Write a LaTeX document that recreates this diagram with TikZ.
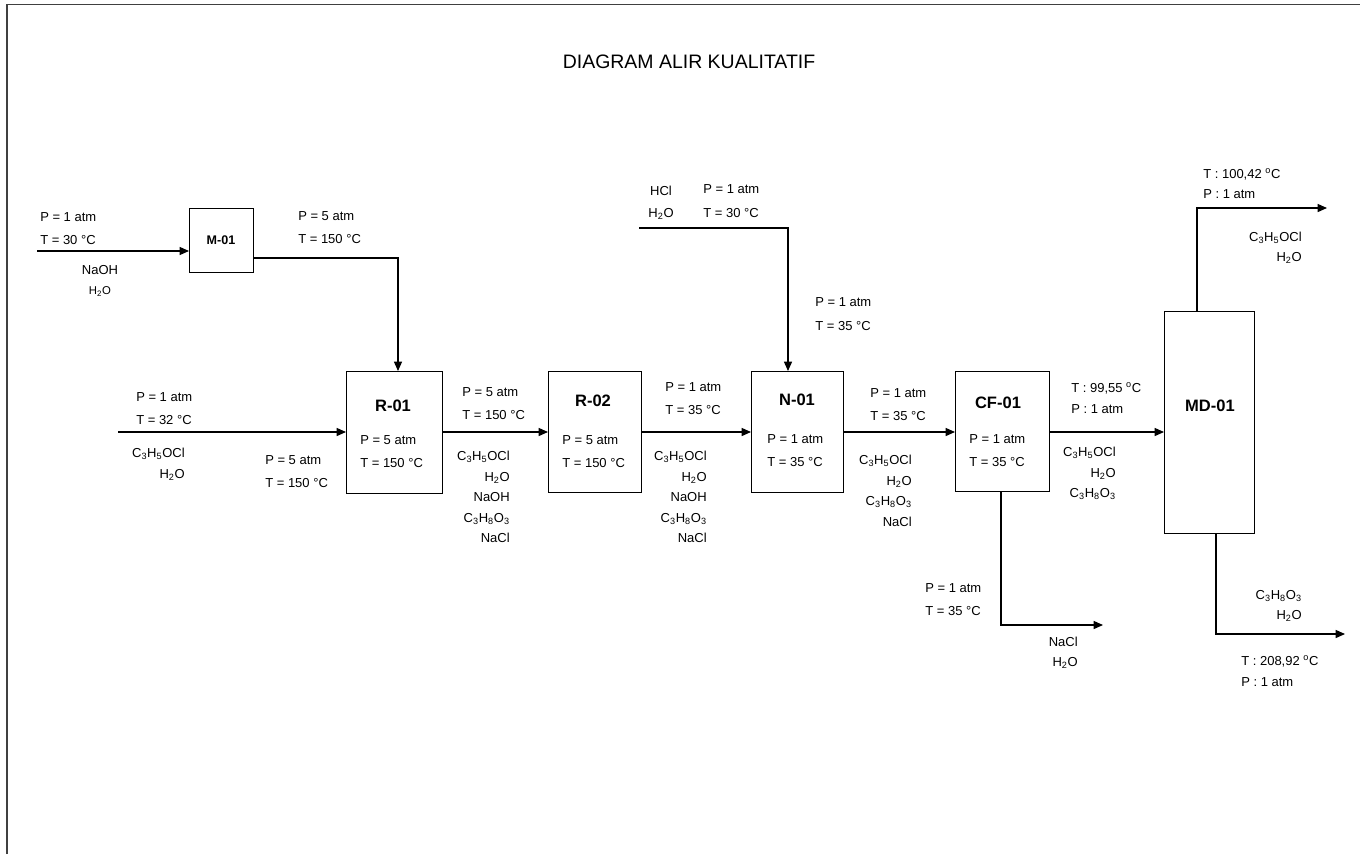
\documentclass[tikz,border=0pt]{standalone}
\usepackage{fontspec}
\setmainfont{Liberation Sans}
\usetikzlibrary{positioning,arrows.meta}

\begin{document}
\begin{tikzpicture}[
  x=0.75pt, y=-0.75pt,
  font=\fontsize{9.75}{11.5}\selectfont,
  unit/.style={draw, line width=0.8pt, anchor=north west, inner sep=0pt},
  unitname/.style={font=\fontsize{12.4}{14}\selectfont\bfseries},
  cond/.style={anchor=north west, align=left, inner sep=0pt,
    font=\fontsize{9.75}{17.25}\selectfont},
  comp/.style={anchor=north east, align=right, inner sep=0pt,
    font=\fontsize{9.75}{15.4}\selectfont},
  pipe/.style={line width=0.95pt},
  stream/.style={pipe, -{Triangle[length=7pt, width=6pt]}},
  frame/.style={line width=1.1pt, black!75}
]
\useasboundingbox (0,0) rectangle (1360,854);
\draw[frame] (7,854) -- (7,4.5) -- (1360,4.5);
\node[font=\fontsize{14.6}{16}\selectfont] (title) at (689,62) {DIAGRAM ALIR KUALITATIF};

% process units
\node[unit, minimum width=48pt, minimum height=48pt] (m01) at (189,208) {};
\node[unit, minimum width=72pt, minimum height=91.5pt] (r01) at (346,371) {};
\node[unit, minimum width=69.75pt, minimum height=90.75pt] (r02) at (548,371) {};
\node[unit, minimum width=69pt, minimum height=90.75pt] (n01) at (751,371) {};
\node[unit, minimum width=70.5pt, minimum height=90pt] (cf01) at (955,371) {};
\node[unit, minimum width=67.5pt, minimum height=166.5pt] (md01) at (1164,311) {};

\node[unitname, font=\fontsize{9.4}{11}\selectfont\bfseries] (m01name) at (221,240) {M-01};
\node[unitname] (r01name) at (393,406) {R-01};
\node[unitname] (r02name) at (593,401) {R-02};
\node[unitname] (n01name) at (797,400) {N-01};
\node[unitname] (cf01name) at (998,403) {CF-01};
\node[unitname] (md01name) at (1210,406) {MD-01};

\node[cond] (r01cond) at (360,435) {P = 5 atm\\T = 150 °C};
\node[cond] (r02cond) at (562,435) {P = 5 atm\\T = 150 °C};
\node[cond] (n01cond) at (767,434) {P = 1 atm\\T = 35 °C};
\node[cond] (cf01cond) at (969,434) {P = 1 atm\\T = 35 °C};

% free ends of the streams
\coordinate (naoh) at (37,251);
\coordinate (m01out) at (398,258);
\coordinate (epi) at (118,432);
\coordinate (row) at (0,432);
\coordinate (hcl) at (639,228);
\coordinate (hclbend) at (788,228);
\coordinate (cakebend) at (1001,625);
\coordinate (cake) at (1103,625);
\coordinate (topbend) at (1197,208);
\coordinate (top) at (1327,208);
\coordinate (botbend) at (1216,634);
\coordinate (bot) at (1345,634);

% streams
\draw[stream] (naoh) -- (naoh -| m01.west);
\draw[stream] (m01.east |- m01out) -- (m01out) -- (m01out |- r01.north);
\draw[stream] (epi) -- (epi -| r01.west);
\draw[stream] (r01.east |- row) -- (r02.west |- row);
\draw[stream] (r02.east |- row) -- (n01.west |- row);
\draw[stream] (hcl) -- (hclbend) -- (hclbend |- n01.north);
\draw[stream] (n01.east |- row) -- (cf01.west |- row);
\draw[stream] (cakebend |- cf01.south) -- (cakebend) -- (cake);
\draw[stream] (cf01.east |- row) -- (md01.west |- row);
\draw[stream] (topbend |- md01.north) -- (topbend) -- (top);
\draw[stream] (botbend |- md01.south) -- (botbend) -- (bot);

% stream conditions
\node[cond] (naohcond) at (40,212) {P = 1 atm\\T = 30 °C};
\node[cond] (m01outcond) at (298,211) {P = 5 atm\\T = 150 °C};
\node[cond] (epicond) at (136,392) {P = 1 atm\\T = 32 °C};
\node[cond] (feedcond) at (265,455) {P = 5 atm\\T = 150 °C};
\node[cond] (r01outcond) at (462,387) {P = 5 atm\\T = 150 °C};
\node[cond] (r02outcond) at (665,382) {P = 1 atm\\T = 35 °C};
\node[cond, font=\fontsize{9.75}{18}\selectfont] (hclcond) at (703,184) {P = 1 atm\\T = 30 °C};
\node[cond, font=\fontsize{9.75}{18}\selectfont] (hclincond) at (815,297) {P = 1 atm\\T = 35 °C};
\node[cond] (n01outcond) at (870,388) {P = 1 atm\\T = 35 °C};
\node[cond, font=\fontsize{9.75}{17.5}\selectfont] (cakecond) at (925,583) {P = 1 atm\\T = 35 °C};
\node[cond, font=\fontsize{9.75}{15.75}\selectfont] (cf01outcond) at (1071,382) {T : 99,55 \textsuperscript{o}C\\P : 1 atm};
\node[cond, font=\fontsize{9.75}{15}\selectfont] (topcond) at (1203,168) {T : 100,42 \textsuperscript{o}C\\P : 1 atm};
\node[cond, font=\fontsize{9.75}{15.75}\selectfont] (botcond) at (1241,655) {T : 208,92 \textsuperscript{o}C\\P : 1 atm};

% stream components
\node[comp, anchor=north, align=center, font=\fontsize{9.75}{15}\selectfont] (naohcomp) at (100,265) {NaOH\\{\fontsize{8.5}{10}\selectfont H\textsubscript{2}O}};
\node[comp] (epicomp) at (185,448) {C\textsubscript{3}H\textsubscript{5}OCl\\H\textsubscript{2}O};
\node[comp] (r01outcomp) at (510,451) {C\textsubscript{3}H\textsubscript{5}OCl\\H\textsubscript{2}O\\NaOH\\C\textsubscript{3}H\textsubscript{8}O\textsubscript{3}\\NaCl};
\node[comp] (r02outcomp) at (707,451) {C\textsubscript{3}H\textsubscript{5}OCl\\H\textsubscript{2}O\\NaOH\\C\textsubscript{3}H\textsubscript{8}O\textsubscript{3}\\NaCl};
\node[comp, anchor=north, align=center, font=\fontsize{9.75}{16.5}\selectfont] (hclcomp) at (661,186) {HCl\\H\textsubscript{2}O};
\node[comp] (n01outcomp) at (912,455) {C\textsubscript{3}H\textsubscript{5}OCl\\H\textsubscript{2}O\\C\textsubscript{3}H\textsubscript{8}O\textsubscript{3}\\NaCl};
\node[comp, font=\fontsize{9.75}{15}\selectfont] (cakecomp) at (1078,637) {NaCl\\H\textsubscript{2}O};
\node[comp] (cf01outcomp) at (1116,447) {C\textsubscript{3}H\textsubscript{5}OCl\\H\textsubscript{2}O\\C\textsubscript{3}H\textsubscript{8}O\textsubscript{3}};
\node[comp, font=\fontsize{9.75}{15}\selectfont] (topcomp) at (1302,232) {C\textsubscript{3}H\textsubscript{5}OCl\\H\textsubscript{2}O};
\node[comp, font=\fontsize{9.75}{15}\selectfont] (botcomp) at (1302,590) {C\textsubscript{3}H\textsubscript{8}O\textsubscript{3}\\H\textsubscript{2}O};
\end{tikzpicture}
\end{document}
